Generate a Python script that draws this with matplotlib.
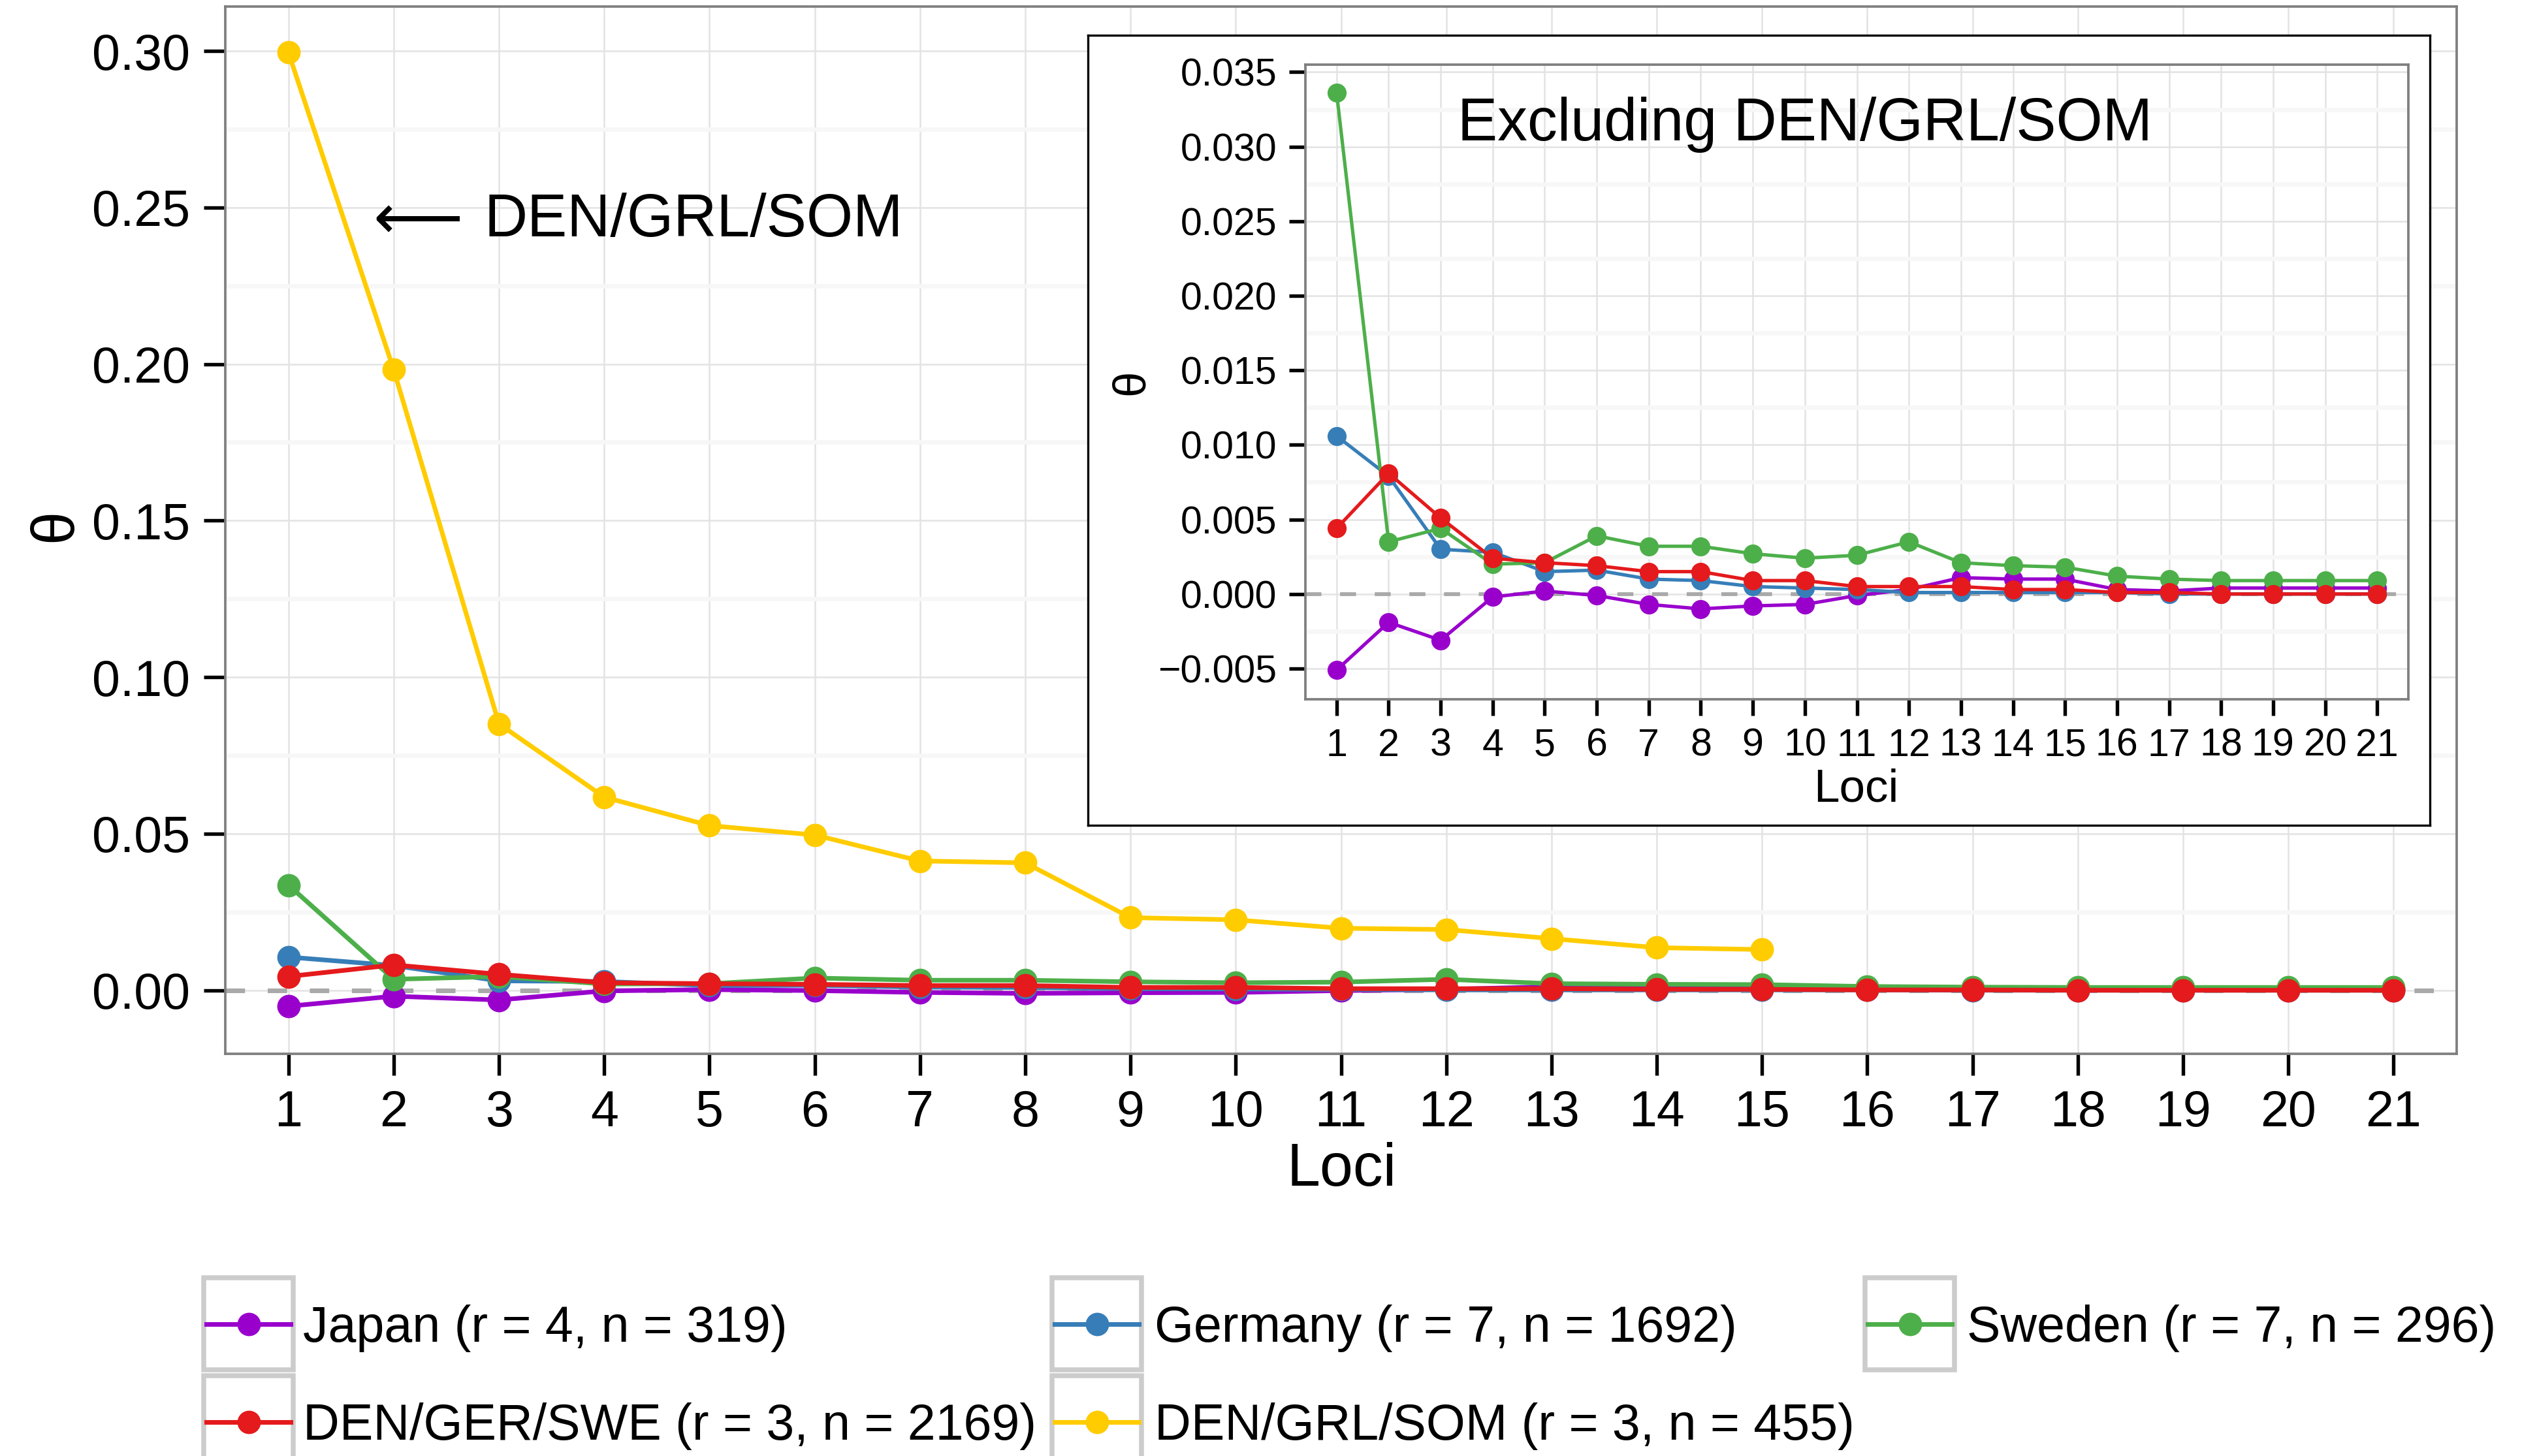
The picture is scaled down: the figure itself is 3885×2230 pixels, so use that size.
import matplotlib
matplotlib.use('Agg')
import matplotlib.pyplot as plt
from matplotlib.patches import Rectangle
from matplotlib.lines import Line2D

plt.rcParams['font.family'] = ['Liberation Sans', 'DejaVu Sans']
plt.rcParams['mathtext.fontset'] = 'dejavusans'

W, H, DPI = 3885, 2230, 300

# data
loci = list(range(1, 22))
japan = [-0.0051, -0.0019, -0.0031, -0.0002, 0.0002, -0.0001, -0.0007, -0.0010,
         -0.0008, -0.0007, -0.0001, 0.0003, 0.0011, 0.0010, 0.0010, 0.0003,
         0.0002, 0.0004, 0.0004, 0.0004, 0.0004]
germany = [0.0106, 0.0079, 0.0030, 0.0028, 0.0015, 0.0016, 0.0010, 0.0009,
           0.0005, 0.0004, 0.0003, 0.0001, 0.0001, 0.0001, 0.0001, 0.0001,
           0.0000, 0.0000, 0.0000, 0.0000, 0.0000]
sweden = [0.0336, 0.0035, 0.0044, 0.0020, 0.0021, 0.0039, 0.0032, 0.0032,
          0.0027, 0.0024, 0.0026, 0.0035, 0.0021, 0.0019, 0.0018, 0.0012,
          0.0010, 0.0009, 0.0009, 0.0009, 0.0009]
den_ger_swe = [0.0044, 0.0081, 0.0051, 0.0024, 0.0021, 0.0019, 0.0015, 0.0015,
               0.0009, 0.0009, 0.0005, 0.0005, 0.0005, 0.0003, 0.0003, 0.0001,
               0.0001, 0.0000, 0.0000, 0.0000, 0.0000]
den_grl_som = [0.2995, 0.1982, 0.0851, 0.0617, 0.0526, 0.0496, 0.0413, 0.0407,
               0.0232, 0.0225, 0.0198, 0.0194, 0.0165, 0.0136, 0.0130]

labels = ['Japan (r = 4, n = 319)', 'Germany (r = 7, n = 1692)',
          'Sweden (r = 7, n = 296)', 'DEN/GER/SWE (r = 3, n = 2169)',
          'DEN/GRL/SOM (r = 3, n = 455)']
colors = ['#9900CC', '#377EB8', '#4DAF4A', '#E41A1C', '#FFCC00']
values = [japan, germany, sweden, den_ger_swe, den_grl_som]

main_yticks = [0.00, 0.05, 0.10, 0.15, 0.20, 0.25, 0.30]
main_yminor = [0.025, 0.075, 0.125, 0.175, 0.225, 0.275]
inset_yticks = [-0.005, 0.000, 0.005, 0.010, 0.015, 0.020, 0.025, 0.030, 0.035]
inset_yminor = [-0.0025, 0.0025, 0.0075, 0.0125, 0.0175, 0.0225, 0.0275, 0.0325]


# pixel -> figure fraction
def fx(px):
    return px / W


def fy(py):
    return 1 - py / H


def box(l, t, r, b):
    return [fx(l), fy(b), fx(r) - fx(l), fy(t) - fy(b)]


def style_axes(ax, tick_size, tick_len, pad):
    ax.set_facecolor('white')
    for s in ax.spines.values():
        s.set_color('#7F7F7F')
        s.set_linewidth(0.9)
    ax.grid(which='major', color='#E3E3E3', lw=0.6)
    ax.grid(which='minor', axis='y', color='#F7F7F7', lw=1.6)
    ax.set_axisbelow(True)
    ax.tick_params(which='major', length=tick_len, width=1.3, color='black',
                   labelsize=tick_size, pad=pad, labelcolor='black')
    ax.tick_params(which='minor', length=0)


fig = plt.figure(figsize=(W / DPI, H / DPI), dpi=DPI)

# main panel
ax = fig.add_axes(box(345, 10, 3762, 1614))
style_axes(ax, 18.5, 8, 5.0)
ax.axhline(0, color='#A9A9A9', lw=1.7, ls=(0, (4.2, 4.9)), zorder=1.5)
for vals, c in zip(values, colors):
    ax.plot(loci[:len(vals)], vals, color=c, lw=1.7, marker='o', ms=7.6, zorder=2)
ax.set_xlim(0.4, 21.6)
ax.set_ylim(-0.0203, 0.3142)
ax.set_xticks(loci)
ax.set_yticks(main_yticks)
ax.set_yticklabels(['%.2f' % v for v in main_yticks])
ax.set_yticks(main_yminor, minor=True)
ax.text(1.69, 0.2456, r'$\longleftarrow$', fontsize=23, ha='left', va='center')
ax.text(2.86, 0.2407, 'DEN/GRL/SOM', fontsize=22, ha='left', va='baseline')

fig.text(fx(85), fy(805), '\u03b8', fontsize=22, rotation=90, ha='center', va='center')
fig.text(fx(2054), fy(1792), 'Loci', fontsize=22, ha='center', va='center')

# inset frame
frame = fig.add_axes(box(1666, 54, 3721, 1264))
frame.set_xticks([])
frame.set_yticks([])
frame.set_facecolor('white')
for s in frame.spines.values():
    s.set_color('black')
    s.set_linewidth(0.8)

ins = fig.add_axes(box(1999, 99, 3688, 1071))
style_axes(ins, 14.2, 6, 4.5)
ins.axhline(0, color='#A9A9A9', lw=1.4, ls=(0, (4.2, 4.9)), zorder=1.5)
for vals, c in zip(values[:4], colors[:4]):
    ins.plot(loci, vals, color=c, lw=1.25, marker='o', ms=6.0, zorder=2)
ins.set_xlim(0.4, 21.6)
ins.set_ylim(-0.00706, 0.0355)
ins.set_xticks(loci)
ins.set_yticks(inset_yticks)
ins.set_yticklabels([('%.3f' % v).replace('-', '\u2212') for v in inset_yticks])
ins.set_yticks(inset_yminor, minor=True)
ins.text(10, 0.0304, 'Excluding DEN/GRL/SOM', fontsize=22, ha='center', va='baseline')

fig.text(fx(1733), fy(585), '\u03b8', fontsize=17, rotation=90, ha='center', va='center')
fig.text(fx(2842), fy(1209), 'Loci', fontsize=17, ha='center', va='center')

# legend, ggplot style: keys in grey boxes, filled row by row
key_x = [312, 1611, 2856]
text_x = [464, 1768, 3012]
row_y = [1957, 2107]
kw, kh = 137, 141
for i, (lab, c) in enumerate(zip(labels, colors)):
    col, row = i % 3, i // 3
    x0, y0 = key_x[col], row_y[row]
    fig.add_artist(Rectangle((fx(x0), fy(y0 + kh)), fx(kw), kh / H,
                             transform=fig.transFigure, facecolor='white',
                             edgecolor='#CCCCCC', lw=1.8))
    yc = fy(y0 + kh / 2)
    fig.add_artist(Line2D([fx(x0 + 4), fx(x0 + kw - 4)], [yc, yc],
                          transform=fig.transFigure, color=c, lw=1.7))
    fig.add_artist(Line2D([fx(x0 + kw / 2)], [yc], transform=fig.transFigure,
                          color=c, marker='o', ms=7.6, lw=0))
    fig.text(fx(text_x[col]), fy(y0 + kh / 2 + 7), lab, fontsize=18.5,
             ha='left', va='center')

fig.savefig('out.png', dpi=DPI)
